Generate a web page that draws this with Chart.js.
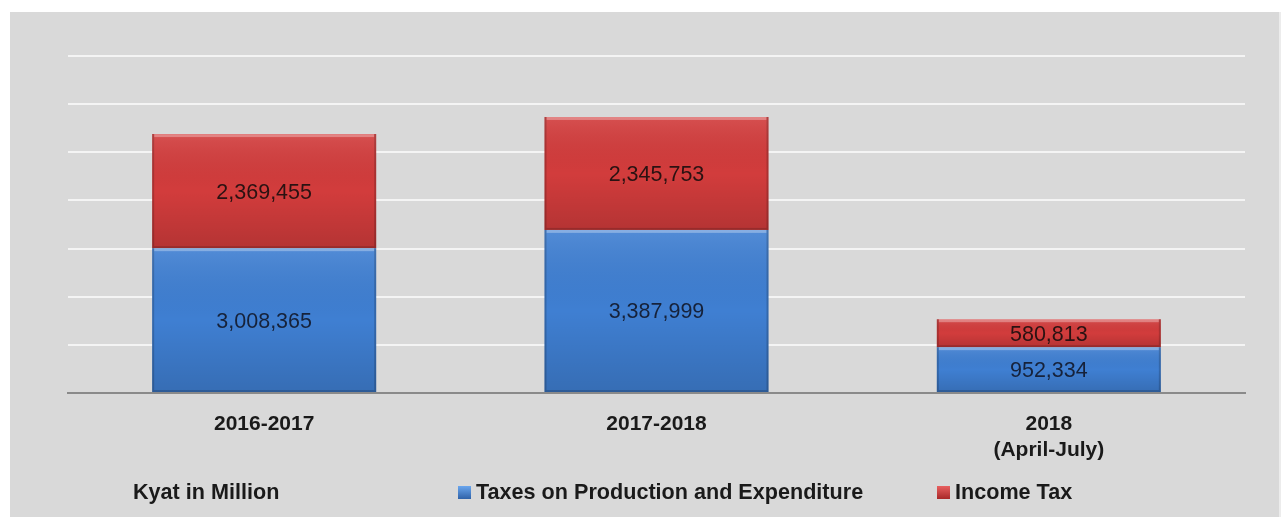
<!DOCTYPE html>
<html><head><meta charset="utf-8">
<script src="https://cdn.jsdelivr.net/npm/chart.js@4.4.1/dist/chart.umd.min.js"></script>
<style>html,body{margin:0;padding:0;background:#fff;overflow:hidden}#wrap{width:1283px;height:517px;position:relative}</style>
</head><body><div id="wrap"><canvas id="c" width="1283" height="517"></canvas></div>
<script>
const categories = ['2016-2017', '2017-2018', ['2018', '(April-July)']];
const taxesProduction = [3008365, 3387999, 952334];
const incomeTax = [2369455, 2345753, 580813];
const seriesNames = ['Taxes on Production and Expenditure', 'Income Tax'];
const seriesColors = ['#3f7fd2', '#d23c3c'];
const labelColors = ['#16223a', '#2a1212'];
const unitLabel = 'Kyat in Million';
const yMax = 7000000;
const yStep = 1000000;

const FONT = '"Liberation Sans", Arial, sans-serif';
const fmt = v => v.toLocaleString('en-US');

const decor = {
  id: 'decor',
  beforeDraw(chart) {
    const ctx = chart.ctx;
    ctx.save();
    ctx.fillStyle = '#ffffff';
    ctx.fillRect(0, 0, chart.width, chart.height);
    ctx.fillStyle = '#d9d9d9';
    ctx.fillRect(10, 12, 1269, chart.height - 12);
    ctx.fillStyle = '#ececec';
    ctx.fillRect(1279, 12, 2, chart.height - 12);
    ctx.restore();
  },
  afterDatasetsDraw(chart) {
    const ctx = chart.ctx;
    ctx.save();
    chart.data.datasets.forEach((ds, di) => {
      const meta = chart.getDatasetMeta(di);
      meta.data.forEach((el, i) => {
        const left = el.x - el.width / 2, w = el.width;
        const top = Math.min(el.y, el.base), h = Math.abs(el.base - el.y);
        const g = ctx.createLinearGradient(0, top, 0, top + h);
        g.addColorStop(0, 'rgba(255,255,255,0.10)');
        g.addColorStop(0.5, 'rgba(0,0,0,0.0)');
        g.addColorStop(1, 'rgba(0,0,0,0.14)');
        ctx.fillStyle = g;
        ctx.fillRect(left, top, w, h);
        ctx.fillStyle = 'rgba(255,255,255,0.30)';
        ctx.fillRect(left + 2, top, w - 4, 3);
        ctx.fillStyle = 'rgba(0,0,0,0.18)';
        ctx.fillRect(left, top, 2, h);
        ctx.fillRect(left + w - 2, top, 2, h);
        ctx.fillStyle = 'rgba(0,0,0,0.16)';
        ctx.fillRect(left + 2, top + h - 2, w - 4, 2);
        // value label
        ctx.fillStyle = labelColors[di];
        ctx.font = '21.5px ' + FONT;
        ctx.textAlign = 'center';
        ctx.textBaseline = 'middle';
        ctx.fillText(fmt(ds.data[i]), el.x, top + h / 2 + 1.5);
      });
    });
    ctx.restore();
  },
  afterDraw(chart) {
    const ctx = chart.ctx;
    ctx.save();
    const y = 493;
    ctx.font = 'bold 21.6px ' + FONT;
    ctx.textBaseline = 'middle';
    ctx.textAlign = 'left';
    ctx.fillStyle = '#1a1a1a';
    ctx.fillText(unitLabel, 133, y);
    const items = [{x: 458, i: 0}, {x: 937, i: 1}];
    items.forEach(it => {
      const g = ctx.createLinearGradient(0, y - 7, 0, y + 6);
      g.addColorStop(0, it.i === 0 ? '#6aa6ee' : '#e86060');
      g.addColorStop(1, it.i === 0 ? '#2f62a8' : '#a82828');
      ctx.fillStyle = g;
      ctx.fillRect(it.x, y - 7, 13, 13);
      ctx.fillStyle = '#1a1a1a';
      ctx.fillText(seriesNames[it.i], it.x + 18, y);
    });
    ctx.restore();
  }
};

new Chart(document.getElementById('c'), {
  type: 'bar',
  data: {
    labels: categories,
    datasets: [
      { label: seriesNames[0], data: taxesProduction, backgroundColor: seriesColors[0], borderWidth: 0 },
      { label: seriesNames[1], data: incomeTax, backgroundColor: seriesColors[1], borderWidth: 0 }
    ]
  },
  options: {
    responsive: false,
    animation: false,
    layout: { padding: { left: 68, right: 38, top: 56, bottom: 0 } },
    datasets: { bar: { barPercentage: 0.571, categoryPercentage: 1 } },
    plugins: { legend: { display: false }, tooltip: { enabled: false } },
    scales: {
      x: {
        stacked: true,
        grid: { display: false, drawTicks: false },
        border: { display: true, color: '#8a8a8a', width: 2 },
        ticks: { color: '#1a1a1a', font: { family: FONT, size: 21, weight: 'bold', lineHeight: 1.24 }, padding: 18, maxRotation: 0, autoSkip: false },
        afterFit: s => { s.height = 124; }
      },
      y: {
        stacked: true,
        min: 0, max: yMax,
        ticks: { display: false, stepSize: yStep },
        grid: { color: '#f4f4f4', lineWidth: 2, drawTicks: false },
        border: { display: false }
      }
    }
  },
  plugins: [decor]
});
</script></body></html>
